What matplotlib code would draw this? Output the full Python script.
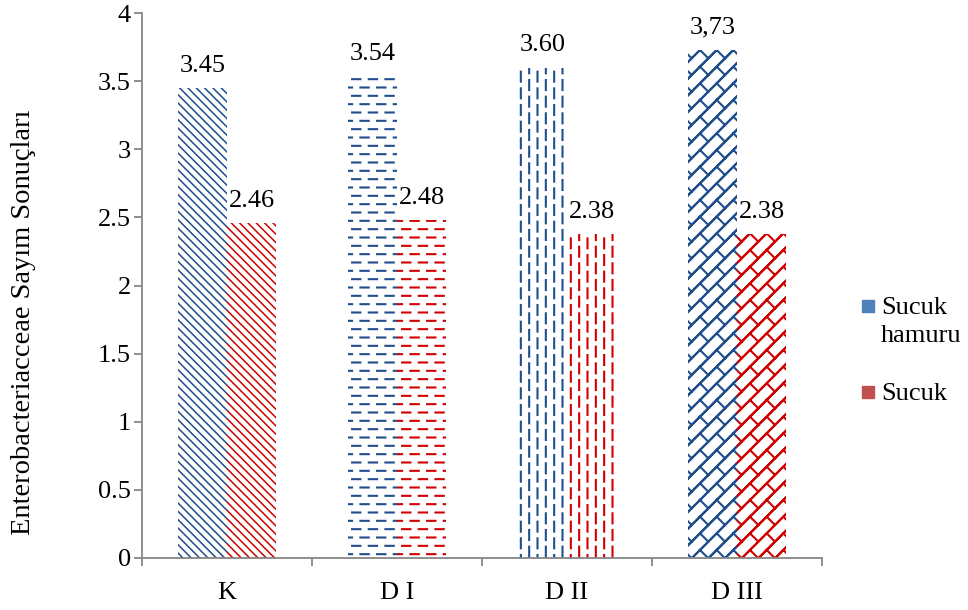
import warnings
import numpy as np
import matplotlib
matplotlib.use("Agg")
import matplotlib.pyplot as plt
import matplotlib.hatch as mhatch
from matplotlib.path import Path
from matplotlib.lines import Line2D
from matplotlib.ticker import FuncFormatter, FixedLocator

# ---- data -------------------------------------------------------------
categories = ["K", "D I", "D II", "D III"]
series_names = ["Sucuk\nhamuru", "Sucuk"]
hamuru_values = [3.45, 3.54, 3.60, 3.73]
hamuru_labels = ["3.45", "3.54", "3.60", "3,73"]
sucuk_values = [2.46, 2.48, 2.38, 2.38]
sucuk_labels = ["2.46", "2.48", "2.38", "2.38"]
y_ticks = [0, 0.5, 1, 1.5, 2, 2.5, 3, 3.5, 4]
y_label = "Enterobacteriacceae Sayım Sonuçları"

# ---- custom fill patterns (dashed rows, dashed columns, shingles) -------
class _SegmentHatch(mhatch.HatchPatternBase):
    symbol = None

    def __init__(self, hatch, density):
        segs = self.segments() if (self.symbol in hatch) else []
        tiled = []
        for dx in (-1, 0, 1):
            for dy in (-1, 0, 1):
                for (x0, y0), (x1, y1) in segs:
                    tiled.append(((x0 + dx, y0 + dy), (x1 + dx, y1 + dy)))
        self._segs = tiled
        self.num_vertices = 2 * len(tiled)

    def set_vertices_and_codes(self, vertices, codes):
        for i, (p, q) in enumerate(self._segs):
            vertices[2 * i] = p
            vertices[2 * i + 1] = q
            codes[2 * i] = Path.MOVETO
            codes[2 * i + 1] = Path.LINETO


class DashedRows(_SegmentHatch):
    symbol = "_"

    def segments(self):
        rows, per_row, length = 12, 6, 1 / 12
        segs = []
        for r in range(rows):
            y = (r + 0.5) / rows
            off = (r % 2) * (0.5 / per_row)
            for j in range(per_row):
                x = j / per_row + off + 1 / 48
                segs.append(((x, y), (x + length, y)))
        return segs


class DashedColumns(_SegmentHatch):
    symbol = ":"

    def segments(self):
        cols, per_col, length = 12, 6, 0.10
        segs = []
        for c in range(cols):
            x = (c + 0.5) / cols
            off = (c % 2) * (0.5 / per_col)
            for j in range(per_col):
                y = j / per_col + off + 1 / 60
                segs.append(((x, y), (x, y + length)))
        return segs


class Shingles(_SegmentHatch):
    symbol = "~"

    def segments(self):
        n = 6
        step = 1 / n
        segs = []
        # rising diagonals
        for k in range(n):
            c = k * step
            segs.append(((0 - c, 0), (1 - c, 1)))
            segs.append(((0, c), (1, 1 + c)))
        # short falling connectors from each diagonal to its lower neighbour
        for k in range(n):
            c = k * step
            for j in range(n):
                x0 = j * step
                y0 = x0 + c
                segs.append(((x0, y0), (x0 + step / 2, y0 - step / 2)))
        return segs


mhatch._hatch_types.extend([DashedRows, DashedColumns, Shingles])
if hasattr(mhatch, "_validate_hatch_pattern"):
    mhatch._validate_hatch_pattern = lambda hatch: None
warnings.filterwarnings("ignore")

# ---- style --------------------------------------------------------------
plt.rcParams["font.family"] = ["Liberation Serif", "DejaVu Serif"]
plt.rcParams["hatch.linewidth"] = 1.5
FS = 19
axis_grey = "#868686"
hatch_blue = "#1F4E8C"
hatch_red = "#D00000"
legend_blue = "#4F81BD"
legend_red = "#C0504D"
BACK = chr(92)
hatches = [BACK * 4, "_", ":", "~"]
hatch_widths = [1.1, 1.5, 1.5, 1.5]

W, H = 968, 610
fig = plt.figure(figsize=(W / 100, H / 100), dpi=100)
ax = fig.add_axes([142 / W, (H - 558) / H, 680 / W, 545 / H])

x = np.arange(len(categories))
bw = 0.29
bars_h = ax.bar(x - bw / 2, hamuru_values, bw, color="none",
                edgecolor=hatch_blue, linewidth=0)
bars_s = ax.bar(x + bw / 2, sucuk_values, bw, color="none",
                edgecolor=hatch_red, linewidth=0)
for bars in (bars_h, bars_s):
    for b, h, lw in zip(bars, hatches, hatch_widths):
        b.set_hatch(h)
        if hasattr(b, "set_hatch_linewidth"):
            b.set_hatch_linewidth(lw)

# value labels above bars
for bars, labels in ((bars_h, hamuru_labels), (bars_s, sucuk_labels)):
    for b, lab in zip(bars, labels):
        ax.annotate(lab, (b.get_x() + b.get_width() / 2, b.get_height()),
                    xytext=(0, 8), textcoords="offset points",
                    ha="center", va="bottom", fontsize=FS)

# axes
ax.set_xlim(-0.5, len(categories) - 0.5)
ax.set_ylim(y_ticks[0], y_ticks[-1])
ax.yaxis.set_major_locator(FixedLocator(y_ticks))
ax.yaxis.set_major_formatter(FuncFormatter(lambda v, p: f"{v:g}"))
ax.set_xticks(x)
ax.set_xticklabels(categories)
ax.set_xticks(np.arange(len(categories) + 1) - 0.5, minor=True)
ax.tick_params(axis="x", which="major", length=0, pad=17, labelsize=FS)
ax.tick_params(axis="x", which="minor", length=6, width=1.3, color=axis_grey,
               direction="out")
ax.tick_params(axis="y", length=6, width=1.3, color=axis_grey, direction="out",
               pad=2, labelsize=FS)
for side in ("top", "right"):
    ax.spines[side].set_visible(False)
for side in ("left", "bottom"):
    ax.spines[side].set_color(axis_grey)
    ax.spines[side].set_linewidth(1.3)

ax.set_ylabel(y_label, fontsize=20.5)
ax.yaxis.set_label_coords((36 - 142) / 680, (558 - 322) / 545)

# legend
for color, name, cy in ((legend_blue, series_names[0], 306),
                        (legend_red, series_names[1], 392)):
    fig.add_artist(Line2D([868 / W], [1 - cy / H], marker="s", markersize=9,
                          color=color, linestyle="none",
                          transform=fig.transFigure))
    fig.text(881 / W, 1 - (cy - 9) / H, name, fontsize=FS, va="top",
             ha="left", linespacing=1.35)

fig.savefig("out.png", dpi=100)
